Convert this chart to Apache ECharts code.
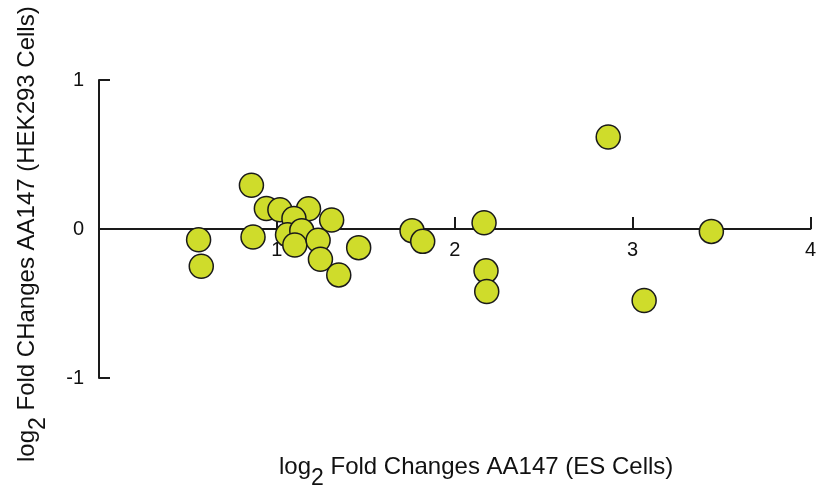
<!DOCTYPE html>
<html>
<head>
<meta charset="utf-8">
<script src="https://cdn.jsdelivr.net/npm/echarts@6/dist/echarts.min.js"></script>
<style>
  html, body { margin: 0; padding: 0; background: #fff; }
  #chart { width: 819px; height: 488px; }
</style>
</head>
<body>
<div id="chart"></div>
<script>
// log2 fold changes, ES cells (x) vs HEK293 cells (y)
const esFold = [0.56, 0.575, 0.857, 0.866, 0.941, 1.017, 1.178, 1.096, 1.06, 1.14, 1.101, 1.308,
  1.232, 1.245, 1.348, 1.46, 1.76, 1.82, 2.165, 2.176, 2.18, 2.863, 3.443, 3.065];
const hekFold = [-0.072, -0.25, 0.294, -0.054, 0.138, 0.129, 0.136, 0.071, -0.038, -0.011, -0.107, 0.06,
  -0.076, -0.203, -0.308, -0.125, -0.011, -0.083, 0.042, -0.281, -0.419, 0.617, -0.016, -0.48];
const xTicks = [0, 1, 2, 3, 4];
const yTicks = [-1, 0, 1];

const points = esFold.map((x, i) => [x, hekFold[i]]);

const chart = echarts.init(document.getElementById("chart"));
const font = "Liberation Sans, Arial, Helvetica, sans-serif";

const titleRich = {
  m: { fontSize: 24, fontFamily: font, fill: "#111", padding: [0, 0, 12, 0] },
  s: { fontSize: 23, fontFamily: font, fill: "#111", padding: [12, 0, 0, 0] }
};

chart.setOption({
  animation: false,
  grid: { left: 99, top: 80, width: 714, height: 298 },
  xAxis: {
    type: "value",
    min: xTicks[0],
    max: xTicks[xTicks.length - 1],
    interval: 1,
    offset: -149,
    axisLine: { onZero: false, lineStyle: { color: "#1a1a1a", width: 2 } },
    axisTick: { inside: true, length: 12, lineStyle: { color: "#1a1a1a", width: 2 } },
    axisLabel: {
      margin: 11,
      color: "#111",
      fontSize: 20,
      fontFamily: font,
      formatter: v => (v === 0 ? "" : String(v))
    },
    splitLine: { show: false }
  },
  yAxis: {
    type: "value",
    min: yTicks[0],
    max: yTicks[yTicks.length - 1],
    interval: 1,
    axisLine: { show: true, lineStyle: { color: "#1a1a1a", width: 2 } },
    axisTick: { show: true, inside: true, length: 11, lineStyle: { color: "#1a1a1a", width: 2 } },
    axisLabel: { margin: 15, color: "#111", fontSize: 20, fontFamily: font },
    splitLine: { show: false }
  },
  graphic: [
    {
      type: "text",
      left: 279,
      top: 455,
      style: {
        text: "{m|log}{s|2}{m| Fold Changes AA147 (ES Cells)}",
        rich: titleRich
      }
    },
    {
      type: "text",
      x: 15,
      y: 462,
      rotation: Math.PI / 2,
      style: {
        text: "{m|log}{s|2}{m| Fold CHanges AA147 (HEK293 Cells)}",
        rich: titleRich
      }
    }
  ],
  series: [
    {
      type: "scatter",
      data: points,
      symbolSize: 24,
      itemStyle: { color: "#cfdc2b", borderColor: "#1a1a1a", borderWidth: 1.5, opacity: 1 }
    }
  ]
});
</script>
</body>
</html>
